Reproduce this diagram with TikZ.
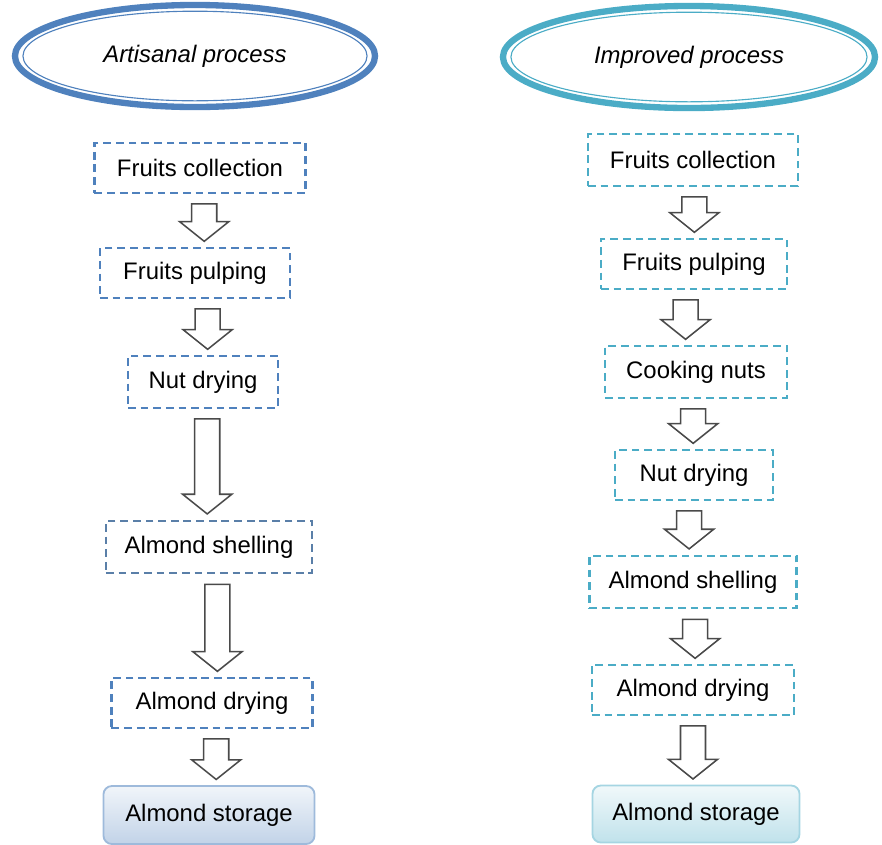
\documentclass[tikz,border=0pt]{standalone}
\usepackage{fontspec}
\setmainfont{Liberation Sans}
\usetikzlibrary{shapes.geometric,calc}

\definecolor{artblue}{HTML}{4F81BD}
\definecolor{artgrey}{HTML}{5A7FA8}
\definecolor{impteal}{HTML}{4BACC6}
\definecolor{arrowgrey}{HTML}{4A4A4A}

\tikzset{
  stepbox/.style={draw, dash pattern=on 5.5pt off 3.5pt, line width=1.5pt,
    minimum height=1.25cm, inner sep=2pt},
  artstep/.style={stepbox, draw=artblue},
  impstep/.style={stepbox, draw=impteal},
  storebox/.style={draw, rounded corners=6pt, line width=1.3pt, minimum height=1.45cm},
  titleoval/.style={ellipse, draw, line width=4.5pt, minimum width=9cm,
    minimum height=2.55cm, font=\fontsize{17}{20}\selectfont\itshape},
  blockarrow/.style={draw=arrowgrey, fill=white, line width=1.1pt, line join=miter,
    to path={let \p1=(\tikztostart), \p2=(\tikztotarget) in
      (\x1-8.9pt,\y1-7pt) -- (\x1-8.9pt,\y2+18pt) -- (\x1-17.5pt,\y2+18pt)
      -- (\x1,\y2+4pt) -- (\x1+17.5pt,\y2+18pt) -- (\x1+8.9pt,\y2+18pt)
      -- (\x1+8.9pt,\y1-7pt) -- cycle}},
}

\begin{document}
\begin{tikzpicture}[x=0.025cm, y=-0.025cm, font=\fontsize{17}{20}\selectfont]
  \useasboundingbox (0,0) rectangle (882,844);

  % Titles
  \node[titleoval, draw=artblue] (arttitle) at (195,56) {Artisanal process\hspace{9pt}};
  \draw[artblue, line width=0.8pt] (arttitle.center) ellipse [x radius=4.3cm, y radius=1.12cm];
  \node[titleoval, draw=impteal, minimum width=9.3cm] (imptitle) at (689,57) {Improved process\hspace{4pt}};
  \draw[impteal, line width=0.8pt] (imptitle.center) ellipse [x radius=4.45cm, y radius=1.12cm];

  % Artisanal process
  \node[artstep, minimum width=5.275cm] (afc) at (200,168) {Fruits collection\hspace{8pt}};
  \node[artstep, minimum width=4.75cm] (afp) at (195,273) {Fruits pulping};
  \node[artstep, minimum width=3.75cm, minimum height=1.3cm] (and) at (203,382) {Nut drying};
  \node[artstep, draw=artgrey, minimum width=5.15cm, minimum height=1.32cm] (aas) at (209,547) {Almond shelling};
  \node[artstep, minimum width=5.025cm] (aad) at (212,703) {Almond drying\hspace{12pt}};
  \node[storebox, draw=artblue!55, top color=artblue!8, bottom color=artblue!35,
    minimum width=5.275cm] (ast) at (209,815) {Almond storage};

  \draw[blockarrow] ([xshift=3pt]afc.south) to (afp.north);
  \draw[blockarrow] ([xshift=9pt]afp.south) to (and.north);
  \draw[blockarrow] ([xshift=3pt]and.south) to (aas.north);
  \draw[blockarrow] ([xshift=6pt]aas.south) to (aad.north);
  \draw[blockarrow] ([xshift=3pt]aad.south) to (ast.north);

  % Improved process
  \node[impstep, minimum width=5.25cm, minimum height=1.3cm] (ifc) at (693,160) {Fruits collection};
  \node[impstep, minimum width=4.65cm] (ifp) at (694,264) {Fruits pulping};
  \node[impstep, minimum width=4.55cm, minimum height=1.3cm] (icn) at (696,372) {Cooking nuts};
  \node[impstep, minimum width=3.95cm] (ind) at (694,475) {Nut drying};
  \node[impstep, minimum width=5.175cm, minimum height=1.32cm] (ias) at (693,582) {Almond shelling};
  \node[impstep, minimum width=5.05cm] (iad) at (693,690) {Almond drying};
  \node[storebox, draw=impteal!50, top color=impteal!8, bottom color=impteal!35,
    minimum width=5.175cm, minimum height=1.425cm] (ist) at (696,814) {Almond storage};

  \draw[blockarrow] ([xshift=1pt]ifc.south) to (ifp.north);
  \draw[blockarrow] ([xshift=-6pt]ifp.south) to (icn.north);
  \draw[blockarrow] ([xshift=-2pt]icn.south) to (ind.north);
  \draw[blockarrow] ([xshift=-3.5pt]ind.south) to (ias.north);
  \draw[blockarrow] ([xshift=1.5pt]ias.south) to (iad.north);
  \draw[blockarrow] (iad.south) to (ist.north);
\end{tikzpicture}
\end{document}
